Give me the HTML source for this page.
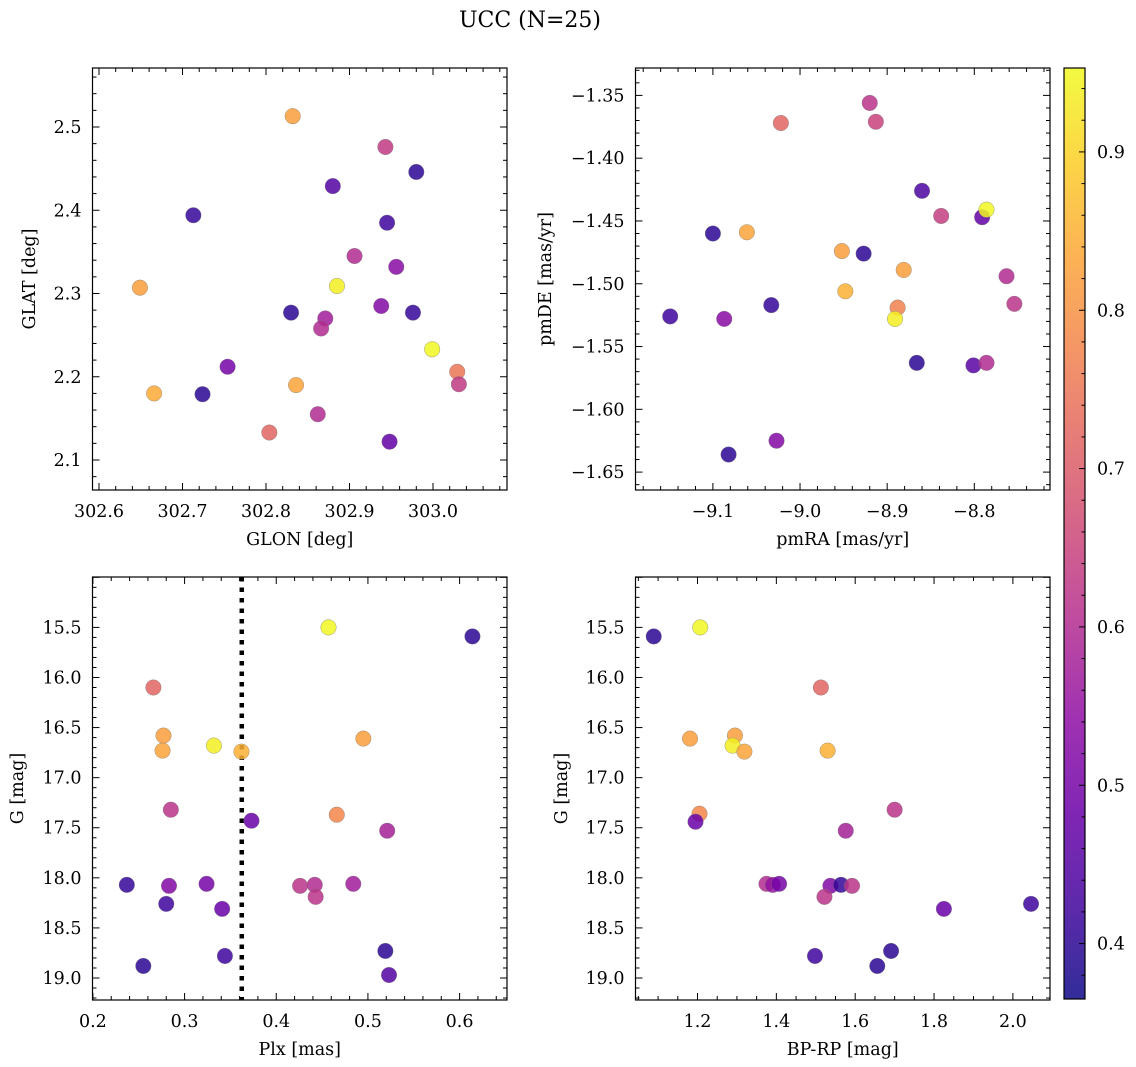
<!DOCTYPE html>
<html><head><meta charset="utf-8">
<style>
html,body{margin:0;padding:0;background:#fff;}
svg{display:block;font-family:"DejaVu Serif","Liberation Serif",serif;}
</style></head>
<body>
<svg id="fig" width="1136" height="1067" viewBox="0 0 1136 1067" xmlns="http://www.w3.org/2000/svg">
<text x="530" y="27" font-size="22" text-anchor="middle">UCC (N=25)</text>
</svg>
<script>
// ---- data: top-left (GLON/GLAT) ----
const glonVals = [302.832,302.943,302.980,302.880,302.713,302.945,302.906,302.956,302.649,302.885,302.830,302.938,302.976,302.871,302.866,302.999,302.754,303.029,303.031,302.666,302.724,302.836,302.862,302.804,302.948];
const glatVals = [2.513,2.476,2.446,2.429,2.394,2.385,2.345,2.332,2.307,2.309,2.277,2.285,2.277,2.270,2.258,2.233,2.212,2.206,2.191,2.180,2.179,2.190,2.155,2.133,2.122];
const probTL = [0.82,0.63,0.40,0.45,0.41,0.42,0.60,0.53,0.82,0.94,0.40,0.52,0.41,0.57,0.60,0.95,0.50,0.75,0.63,0.84,0.40,0.83,0.60,0.72,0.47];
// ---- data: top-right (pmRA/pmDE) ----
const pmraVals = [-8.920,-8.913,-9.022,-8.860,-8.838,-8.791,-8.786,-9.100,-9.061,-8.952,-8.927,-8.881,-8.763,-8.948,-9.033,-8.754,-8.888,-8.891,-9.149,-9.087,-8.866,-8.801,-8.786,-9.027,-9.082];
const pmdeVals = [-1.356,-1.371,-1.372,-1.426,-1.446,-1.447,-1.441,-1.460,-1.459,-1.474,-1.476,-1.489,-1.494,-1.506,-1.517,-1.516,-1.519,-1.528,-1.526,-1.528,-1.563,-1.565,-1.563,-1.625,-1.636];
const probTR = [0.62,0.65,0.72,0.44,0.64,0.47,0.95,0.40,0.83,0.82,0.40,0.82,0.60,0.85,0.41,0.62,0.77,0.94,0.42,0.53,0.40,0.46,0.60,0.52,0.40];
// ---- data: bottom-left (Plx/G) ----
const plxVals = [0.457,0.614,0.266,0.277,0.276,0.332,0.362,0.495,0.285,0.373,0.466,0.521,0.237,0.283,0.324,0.280,0.341,0.426,0.442,0.443,0.484,0.255,0.344,0.519,0.523];
const gVals1 = [15.50,15.59,16.10,16.58,16.73,16.68,16.74,16.61,17.32,17.43,17.37,17.53,18.07,18.08,18.06,18.26,18.31,18.08,18.07,18.19,18.06,18.88,18.78,18.73,18.97];
const probBL = [0.95,0.40,0.72,0.82,0.83,0.94,0.85,0.82,0.62,0.48,0.78,0.58,0.41,0.52,0.50,0.42,0.48,0.62,0.60,0.62,0.57,0.40,0.42,0.40,0.45];
const plxLine = [0.3624];
// ---- data: bottom-right (BP-RP/G) ----
const bprpVals = [1.089,1.207,1.513,1.181,1.295,1.289,1.319,1.530,1.205,1.195,1.700,1.576,1.375,1.391,1.407,1.537,1.564,1.592,1.522,1.825,2.046,1.498,1.691,1.656];
const gVals2 = [15.59,15.50,16.10,16.61,16.58,16.68,16.74,16.73,17.36,17.44,17.32,17.53,18.06,18.07,18.06,18.08,18.07,18.08,18.19,18.31,18.26,18.78,18.73,18.88];
const probBR = [0.40,0.95,0.72,0.82,0.82,0.94,0.83,0.85,0.78,0.48,0.62,0.58,0.60,0.55,0.50,0.52,0.41,0.62,0.62,0.48,0.42,0.42,0.40,0.40];
// ---- ticks ----
const tlXTicks = ["302.6","302.7","302.8","302.9","303.0"];
const tlYTicks = ["2.1","2.2","2.3","2.4","2.5"];
const trXTicks = ["−9.1","−9.0","−8.9","−8.8"];
const trYTicks = ["−1.35","−1.40","−1.45","−1.50","−1.55","−1.60","−1.65"];
const blXTicks = ["0.2","0.3","0.4","0.5","0.6"];
const gTicks = ["15.5","16.0","16.5","17.0","17.5","18.0","18.5","19.0"];
const brXTicks = ["1.2","1.4","1.6","1.8","2.0"];
const cbTicks = ["0.4","0.5","0.6","0.7","0.8","0.9"];

const NS="http://www.w3.org/2000/svg";
const svg=document.getElementById('fig');
const FS=17.5;
function mk(tag,attrs,parent){const e=document.createElementNS(NS,tag);for(const k in attrs)e.setAttribute(k,attrs[k]);(parent||svg).appendChild(e);return e;}
function num(s){return parseFloat(s.replace('−','-'));}
function lin(v0,p0,v1,p1){const f=v=>p0+(v-v0)*(p1-p0)/(v1-v0);f.inv=p=>v0+(p-p0)*(v1-v0)/(p1-p0);return f;}

const vmin=0.365,vmax=0.953;
const plasma=["#0d0887","#41049d","#6a00a8","#8f0da4","#b12a90","#cc4778","#e16462","#f2844b","#fca636","#fcce25","#f0f921"];
function hex(h){return [1,3,5].map(i=>parseInt(h.substr(i,2),16));}
function cmap(t){t=Math.max(0,Math.min(1,t));const s=t*10,i=Math.min(9,Math.floor(s)),f=s-i;const a=hex(plasma[i]),b=hex(plasma[i+1]);return 'rgb('+a.map((c,k)=>Math.round(c+(b[k]-c)*f)).join(',')+')';}
function pcol(p){return cmap((p-vmin)/(vmax-vmin));}

function panel(cfg){
  const g=mk('g',{});
  
  
  const {L,R,T,B,sx,sy}=cfg;
  const xa=sx.inv(L),xb=sx.inv(R),ya=sy.inv(B),yb=sy.inv(T);
  const xlo=Math.min(xa,xb),xhi=Math.max(xa,xb),ylo=Math.min(ya,yb),yhi=Math.max(ya,yb);
  const tk=mk('g',{stroke:'#000','stroke-width':1},g);
  
  
  for(let k=Math.ceil(xlo/cfg.xmin-1e-6);k*cfg.xmin<=xhi+1e-9;k++){
    const v=k*cfg.xmin,x=sx(v);const maj=Math.abs(v/cfg.xmaj-Math.round(v/cfg.xmaj))<1e-4;const l=maj?7:4;
    mk('line',{x1:x,x2:x,y1:B,y2:B-l},tk);mk('line',{x1:x,x2:x,y1:T,y2:T+l},tk);
  }
  for(let k=Math.ceil(ylo/cfg.ymin-1e-6);k*cfg.ymin<=yhi+1e-9;k++){
    const v=k*cfg.ymin,y=sy(v);const maj=Math.abs(v/cfg.ymaj-Math.round(v/cfg.ymaj))<1e-4;const l=maj?7:4;
    mk('line',{x1:L,x2:L+l,y1:y,y2:y},tk);mk('line',{x1:R,x2:R-l,y1:y,y2:y},tk);
  }
  cfg.xt.forEach(s=>{const t=mk('text',{x:sx(num(s)),y:B+27,'font-size':FS,'text-anchor':'middle'},g);t.textContent=s;
    });
  cfg.yt.forEach(s=>{const t=mk('text',{x:L-11,y:sy(num(s))+6,'font-size':FS,'text-anchor':'end'},g);t.textContent=s;
    });
  const xt=mk('text',{x:(L+R)/2,y:B+55,'font-size':FS,'text-anchor':'middle'},g);xt.textContent=cfg.xl;
  
  const yx=cfg.ylx,yy=(T+B)/2;
  const yt=mk('text',{x:yx,y:yy,'font-size':FS,'text-anchor':'middle',transform:'rotate(-90 '+yx+' '+yy+')'},g);yt.textContent=cfg.yl;
  
  if(cfg.vline){cfg.vline.forEach(v=>{const ln=mk('line',{x1:sx(v),x2:sx(v),y1:T,y2:B,stroke:'#000','stroke-width':4.5,'stroke-dasharray':'4.5 6'},g);
    });}
  const pts=mk('g',{},g);
  
  cfg.xs.forEach((xv,i)=>{
    const c=mk('circle',{cx:sx(xv),cy:sy(cfg.ys[i]),r:7.8,fill:pcol(cfg.ps[i]),'fill-opacity':0.85,stroke:'#777','stroke-width':0.5,'stroke-opacity':0.7},pts);
    
  });
  const fr=mk('rect',{x:L,y:T,width:R-L,height:B-T,fill:'none',stroke:'#000','stroke-width':1.2},g);
  
}

panel({name:'glon-glat-panel',L:92.5,R:507,T:68,B:490,sx:lin(302.6,99,303.0,433),sy:lin(2.5,127,2.1,460),
  xmaj:0.1,xmin:0.02,ymaj:0.1,ymin:0.02,xt:tlXTicks,yt:tlYTicks,xl:'GLON [deg]',yl:'GLAT [deg]',ylx:35,xs:glonVals,ys:glatVals,ps:probTL});
panel({name:'pm-panel',L:635.5,R:1050,T:68,B:490,sx:lin(-9.1,712.9,-8.8,974.3),sy:lin(-1.35,95.4,-1.65,472.1),
  xmaj:0.1,xmin:0.02,ymaj:0.05,ymin:0.01,xt:trXTicks,yt:trYTicks,xl:'pmRA [mas/yr]',yl:'pmDE [mas/yr]',ylx:551,xs:pmraVals,ys:pmdeVals,ps:probTR});
panel({name:'plx-g-panel',L:92.5,R:507,T:577,B:1000,sx:lin(0.2,92.9,0.6,459.6),sy:lin(15.5,627.4,19.0,978),
  xmaj:0.1,xmin:0.02,ymaj:0.5,ymin:0.1,xt:blXTicks,yt:gTicks,xl:'Plx [mas]',yl:'G [mag]',ylx:23,xs:plxVals,ys:gVals1,ps:probBL,vline:plxLine});
panel({name:'cmd-panel',L:635.5,R:1050,T:577,B:1000,sx:lin(1.2,697.5,2.0,1012.9),sy:lin(15.5,627.4,19.0,978),
  xmaj:0.2,xmin:0.05,ymaj:0.5,ymin:0.1,xt:brXTicks,yt:gTicks,xl:'BP-RP [mag]',yl:'G [mag]',ylx:567,xs:bprpVals,ys:gVals2,ps:probBR});

(function(){
  const L=1064,R=1085,T=68,B=999;const cs=lin(vmin,B,vmax,T);
  const g=mk('g',{});
  const defs=mk('defs',{},g);const lg=mk('linearGradient',{id:'cbg',x1:0,y1:1,x2:0,y2:0},defs);
  for(let i=0;i<=20;i++){mk('stop',{offset:i/20,'stop-color':cmap(i/20)},lg);}
  const r=mk('rect',{x:L,y:T,width:R-L,height:B-T,fill:'url(#cbg)','fill-opacity':0.85},g);
  
  for(let k=Math.ceil(vmin/0.02);k*0.02<=vmax;k++){const v=k*0.02,y=cs(v);const maj=Math.abs(v*10-Math.round(v*10))<1e-4;
    mk('line',{x1:R,x2:R-(maj?6:3.5),y1:y,y2:y,stroke:'#000','stroke-width':1},g);}
  cbTicks.forEach(s=>{const t=mk('text',{x:R+12,y:cs(num(s))+6,'font-size':FS},g);t.textContent=s;
    });
  mk('rect',{x:L,y:T,width:R-L,height:B-T,fill:'none',stroke:'#000','stroke-width':1.2},g);
})();
</script>
</body></html>
